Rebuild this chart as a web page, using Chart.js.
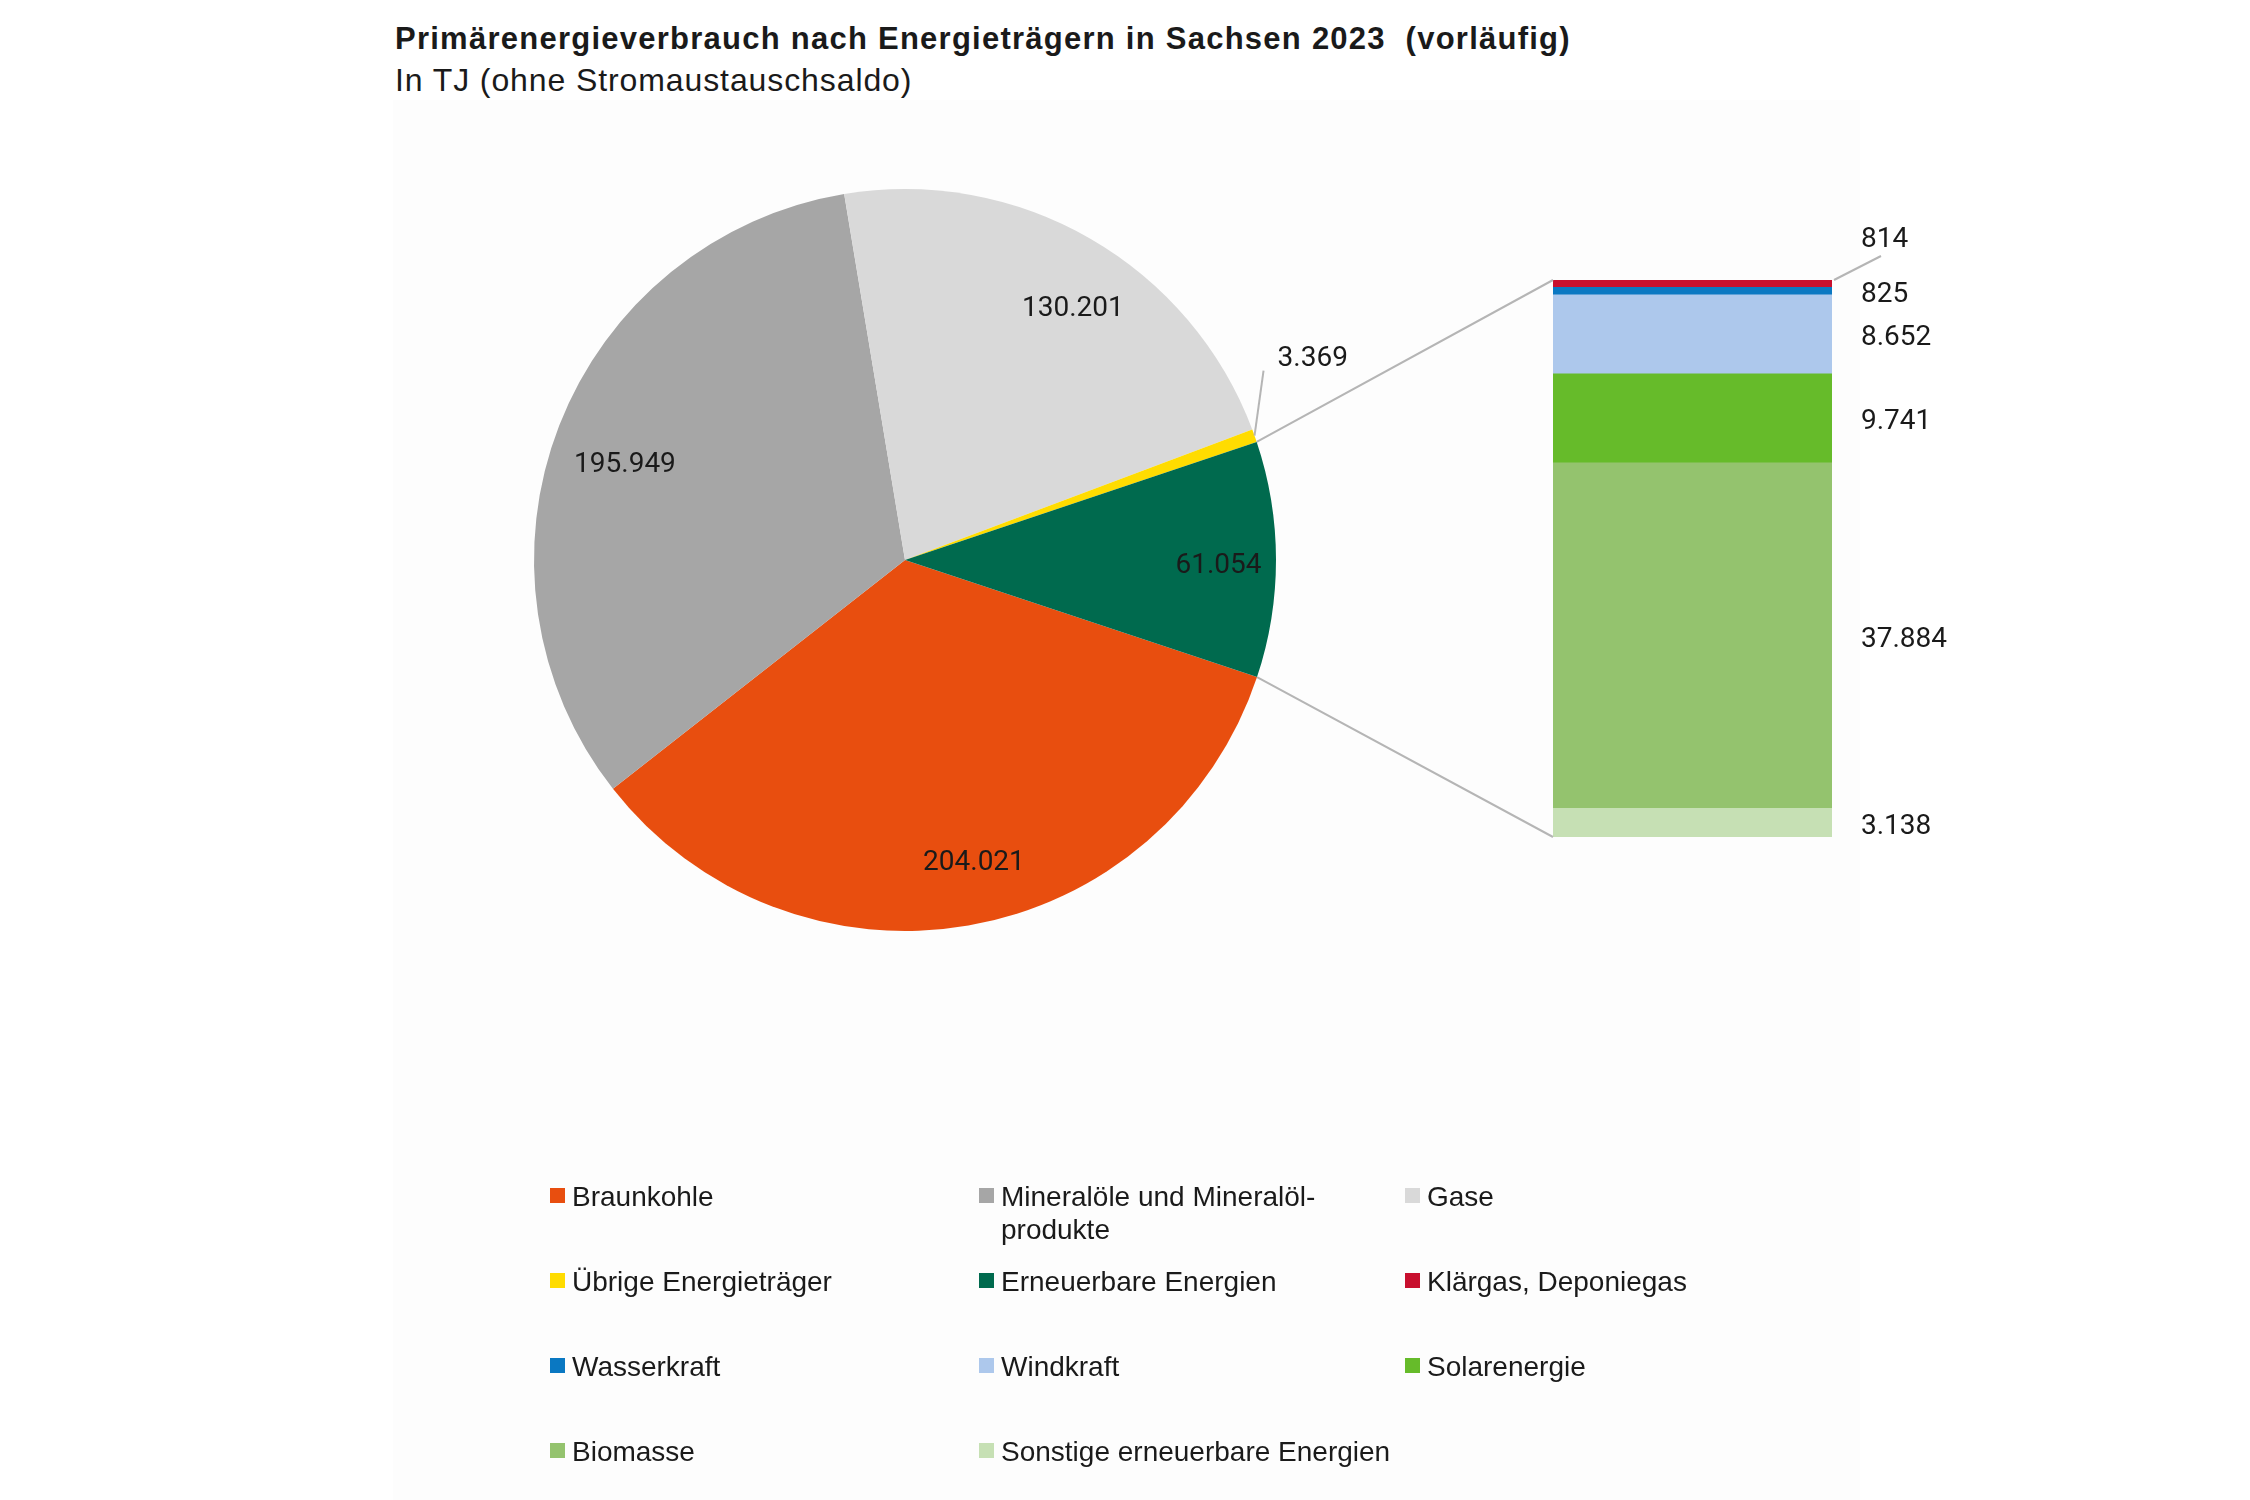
<!DOCTYPE html>
<html lang="de">
<head>
<meta charset="utf-8">
<title>Primärenergieverbrauch Sachsen 2023</title>
<script src="https://cdn.jsdelivr.net/npm/chart.js@4.4.1/dist/chart.umd.min.js"></script>
<style>
  html, body { margin: 0; padding: 0; background: #fff; }
  #page { position: relative; width: 2250px; height: 1500px; overflow: hidden; font-family: "Liberation Sans", Arial, sans-serif; color: #1a1a1a; }
  #panel { position: absolute; left: 393px; top: 100px; width: 1467px; height: 1400px; background: #fdfdfd; }
  canvas { position: absolute; left: 0; top: 0; }
  #title { position: absolute; left: 395px; top: 21px; font-size: 31px; font-weight: bold; letter-spacing: 1.25px; white-space: pre; }
  #subtitle { position: absolute; left: 395px; top: 62px; font-size: 32px; letter-spacing: 0.9px; white-space: nowrap; }
  #legend { position: absolute; left: 550px; top: 1180px; display: grid; grid-template-columns: 429px 426px 420px; grid-auto-rows: 85px; font-size: 28px; line-height: 33px; }
  .item { display: flex; align-items: flex-start; }
  .box { width: 15px; height: 15px; margin-top: 8px; margin-right: 7px; flex: none; }
  .txt { width: 390px; hyphens: manual; }
</style>
</head>
<body>
<div id="page">
  <div id="panel"></div>
  <div id="title">Primärenergieverbrauch nach Energieträgern in Sachsen 2023  (vorläufig)</div>
  <div id="subtitle">In TJ (ohne Stromaustauschsaldo)</div>
  <canvas id="pie" width="2250" height="1500"></canvas>
  <canvas id="bar" width="2250" height="1500"></canvas>
  <div id="legend"></div>
</div>
<script>
// Hauptenergieträger (Kreis)
const mainLabels = ['Braunkohle', 'Mineralöle und Mineralöl\u00ADprodukte', 'Gase', 'Übrige Energieträger', 'Erneuerbare Energien'];
const mainValues = [204021, 195949, 130201, 3369, 61054];
const mainColors = ['#e84e0f', '#a6a6a6', '#d9d9d9', '#ffdc00', '#006a4e'];

// Erneuerbare Energien aufgeteilt (Säule, von oben nach unten)
const renewLabels = ['Klärgas, Deponiegas', 'Wasserkraft', 'Windkraft', 'Solarenergie', 'Biomasse', 'Sonstige erneuerbare Energien'];
const renewValues = [814, 825, 8652, 9741, 37884, 3138];
const renewColors = ['#c8102e', '#0a78c2', '#adc8ec', '#66bb2a', '#94c36e', '#c6e0b4'];

// Lage der Beschriftungen im Kreis (Winkelversatz in Grad, Abstand relativ zum Radius)
const pieLabelShift = [-3.1, -1.9, 3.5, 0, 0.6];
const pieLabelDist = [0.83, 0.80, 0.82, 1, 0.845];

const fmt = v => String(v).replace(/\B(?=(\d{3})+(?!\d))/g, '.');
const labelFont = '28px Roboto, "Liberation Sans", sans-serif';
const labelColor = '#1a1a1a';
const lineColor = '#b5b5b5';

const pieLabels = {
  id: 'pieLabels',
  afterDatasetsDraw(chart) {
    const ctx = chart.ctx;
    const total = mainValues.reduce((a, b) => a + b, 0);
    ctx.save();
    ctx.font = labelFont;
    ctx.fillStyle = labelColor;
    chart.getDatasetMeta(0).data.forEach((arc, i) => {
      const mid = (arc.startAngle + arc.endAngle) / 2;
      const r = arc.outerRadius;
      if (mainValues[i] / total < 0.02) {
        // kleines Segment: Beschriftung außen mit Führungslinie
        const ex = arc.x + Math.cos(mid) * r, ey = arc.y + Math.sin(mid) * r;
        const lx = ex + 9, ly = ey - 65;
        ctx.strokeStyle = lineColor;
        ctx.lineWidth = 2;
        ctx.beginPath(); ctx.moveTo(ex, ey); ctx.lineTo(lx, ly); ctx.stroke();
        ctx.textAlign = 'left'; ctx.textBaseline = 'middle';
        ctx.fillText(fmt(mainValues[i]), lx + 14, ly - 12);
      } else {
        const a = mid + pieLabelShift[i] * Math.PI / 180;
        const d = r * pieLabelDist[i];
        ctx.textAlign = 'center'; ctx.textBaseline = 'middle';
        ctx.fillText(fmt(mainValues[i]), arc.x + Math.cos(a) * d, arc.y + Math.sin(a) * d + 3);
      }
    });
    ctx.restore();
  }
};

const pieChart = new Chart(document.getElementById('pie'), {
  type: 'pie',
  data: {
    labels: mainLabels,
    datasets: [{ data: mainValues, backgroundColor: mainColors, borderWidth: 0 }]
  },
  options: {
    responsive: false,
    animation: false,
    rotation: 108.4,
    layout: { padding: { left: 534, top: 189, right: 974, bottom: 569 } },
    plugins: { legend: { display: false }, tooltip: { enabled: false } }
  },
  plugins: [pieLabels]
});

const renewTotal = renewValues.reduce((a, b) => a + b, 0);
const stackOrder = renewLabels.map((_, i) => i).reverse(); // unten beginnen

const barLabels = {
  id: 'barLabels',
  afterDatasetsDraw(chart) {
    const ctx = chart.ctx;
    const area = chart.chartArea;
    ctx.save();
    ctx.font = labelFont;
    ctx.fillStyle = labelColor;
    ctx.textAlign = 'left';
    ctx.textBaseline = 'middle';
    ctx.strokeStyle = lineColor;
    ctx.lineWidth = 2;
    chart.data.datasets.forEach((ds, d) => {
      const bar = chart.getDatasetMeta(d).data[0];
      const top = Math.min(bar.y, bar.base);
      const value = ds.data[0];
      if (d === chart.data.datasets.length - 1) {
        // oberstes Segment: Beschriftung darüber mit Führungslinie
        ctx.beginPath(); ctx.moveTo(area.right + 2, top); ctx.lineTo(area.right + 49, top - 24); ctx.stroke();
        ctx.fillText(fmt(value), area.right + 29, top - 40);
      } else {
        ctx.fillText(fmt(value), area.right + 29, (bar.y + bar.base) / 2 + 4);
      }
    });

    // Verbindungslinien vom Segment "Erneuerbare Energien" zur Säule
    const arc = pieChart.getDatasetMeta(0).data[mainLabels.length - 1];
    const r = arc.outerRadius;
    const first = chart.getDatasetMeta(chart.data.datasets.length - 1).data[0];
    const last = chart.getDatasetMeta(0).data[0];
    ctx.beginPath();
    ctx.moveTo(arc.x + Math.cos(arc.startAngle) * r, arc.y + Math.sin(arc.startAngle) * r);
    ctx.lineTo(area.left, Math.min(first.y, first.base));
    ctx.moveTo(arc.x + Math.cos(arc.endAngle) * r, arc.y + Math.sin(arc.endAngle) * r);
    ctx.lineTo(area.left, Math.max(last.y, last.base));
    ctx.stroke();
    ctx.restore();
  }
};

new Chart(document.getElementById('bar'), {
  type: 'bar',
  data: {
    labels: ['Erneuerbare Energien'],
    datasets: stackOrder.map(i => ({
      label: renewLabels[i],
      data: [renewValues[i]],
      backgroundColor: renewColors[i],
      borderWidth: 0,
      barPercentage: 1,
      categoryPercentage: 1
    }))
  },
  options: {
    responsive: false,
    animation: false,
    layout: { padding: { left: 1553, top: 280, right: 418, bottom: 663 } },
    scales: {
      x: { stacked: true, display: false },
      y: { stacked: true, display: false, min: 0, max: renewTotal }
    },
    plugins: { legend: { display: false }, tooltip: { enabled: false } }
  },
  plugins: [barLabels]
});

// Legende
const legend = document.getElementById('legend');
mainLabels.concat(renewLabels).forEach((label, i) => {
  const color = mainColors.concat(renewColors)[i];
  const item = document.createElement('div');
  item.className = 'item';
  item.innerHTML = '<span class="box" style="background:' + color + '"></span><span class="txt"></span>';
  item.querySelector('.txt').textContent = label;
  legend.appendChild(item);
});
</script>
</body>
</html>
